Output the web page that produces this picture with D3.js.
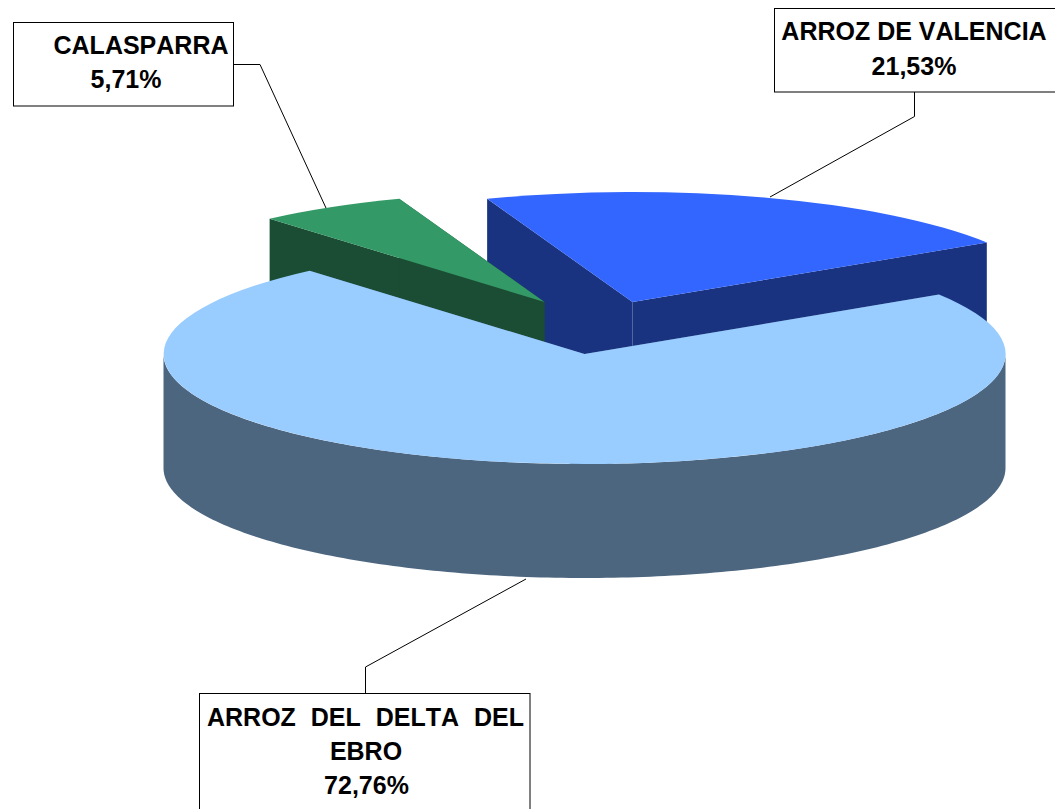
<!DOCTYPE html>
<html>
<head>
<meta charset="utf-8">
<script src="https://d3js.org/d3.v7.min.js"></script>
<style>
  body { margin: 0; background: white; }
  svg { display: block; }
  text { font-family: 'Liberation Sans', Arial, sans-serif; font-weight: bold; font-size: 25px; fill: black; font-kerning: none; }
</style>
</head>
<body>
<svg width="1055" height="809"></svg>

<script>

// Values
var categories = ['ARROZ DE VALENCIA', 'ARROZ DEL DELTA DEL EBRO', 'CALASPARRA'];
var shares = [21.53, 72.76, 5.71];
var shareLabels = ['21,53%', '72,76%', '5,71%'];
var colors = ['#3366FF', '#99CCFF', '#339966'];

// Pie geometry
var cx = 584.5, cy = 354, rx = 421, ry = 110, depth = 114;
var start = -20.2 * Math.PI / 180;

// How far each slice is pulled out of the pie
var explode = [{dx: 48, dy: -52}, {dx: 0, dy: 0}, {dx: -40, dy: -52}];

var svg = d3.select('svg');

var pie = d3.pie().sort(null).startAngle(start).endAngle(start + 2 * Math.PI);
var slices = pie(shares);

// Unit circle arc, squashed into an ellipse by the group transform
var arc = d3.arc().innerRadius(0).outerRadius(1);
var line = d3.line();

function px(a) { return rx * Math.sin(a); }
function py(a) { return -ry * Math.cos(a); }

// half of the top colour, that is what the side faces use
function sideColor(c) {
  var k = d3.rgb(c);
  return d3.rgb(k.r / 2, k.g / 2, k.b / 2).formatHex();
}

// Side faces of one slice: the two cuts, and the rounded front if it has any
function faces(d) {
  var out = [];
  [d.startAngle, d.endAngle].forEach(function(a) {
    out.push([[0, 0], [px(a), py(a)], [px(a), py(a) + depth], [0, depth]]);
  });
  var a0 = Math.max(d.startAngle, Math.PI / 2);
  var a1 = Math.min(d.endAngle, 3 * Math.PI / 2);
  if (a1 > a0) {
    var ts = d3.range(0, 181).map(function(i) { return a0 + (a1 - a0) * i / 180; });
    var top = ts.map(function(a) { return [px(a), py(a)]; });
    var bottom = ts.slice().reverse().map(function(a) { return [px(a), py(a) + depth]; });
    out.push(top.concat(bottom));
  }
  return out;
}

// Back to front: valencia, calasparra, then the big slice on top of both
var order = [0, 2, 1];

var groups = svg.selectAll('g.slice')
  .data(order)
  .enter().append('g')
  .attr('class', 'slice')
  .attr('transform', function(i) {
    return 'translate(' + (cx + explode[i].dx) + ',' + (cy + explode[i].dy) + ')';
  });

groups.selectAll('path.side')
  .data(function(i) { return faces(slices[i]).map(function(f) { return {pts: f, i: i}; }); })
  .enter().append('path')
  .attr('class', 'side')
  .attr('d', function(d) { return line(d.pts) + 'Z'; })
  .attr('fill', function(d) { return sideColor(colors[d.i]); });

groups.append('path')
  .attr('class', 'top')
  .attr('transform', 'scale(' + rx + ',' + ry + ')')
  .attr('d', function(i) { return arc(slices[i]); })
  .attr('fill', function(i) { return colors[i]; });

// Leader lines
var leaders = [
  [[914.5, 92], [914.5, 116.5], [770, 197]],
  [[526, 579], [365.5, 667], [365.5, 693]],
  [[233, 64.5], [260, 64.5], [326, 208]]
];

svg.selectAll('path.leader')
  .data(leaders)
  .enter().append('path')
  .attr('class', 'leader')
  .attr('d', line)
  .attr('fill', 'none')
  .attr('stroke', 'black')
  .attr('stroke-width', 1);

// Label boxes
var boxes = [
  {x: 774.5, y: 8.5, w: 290, h: 83.5},
  {x: 199.5, y: 693.5, w: 330.5, h: 130},
  {x: 13.5, y: 22.5, w: 220, h: 83.5}
];

svg.selectAll('rect.box')
  .data(boxes)
  .enter().append('rect')
  .attr('class', 'box')
  .attr('x', function(d) { return d.x; })
  .attr('y', function(d) { return d.y; })
  .attr('width', function(d) { return d.w; })
  .attr('height', function(d) { return d.h; })
  .attr('fill', 'white')
  .attr('stroke', 'black')
  .attr('stroke-width', 1);

// Label text, the delta one wraps and its first line is justified
var labelLines = [
  {text: categories[0], x: 914, y: 40},
  {text: shareLabels[0], x: 914, y: 75},
  {text: 'ARROZ DEL DELTA DEL', x: 365.5, y: 726, justify: 317},
  {text: 'EBRO', x: 366, y: 760},
  {text: shareLabels[1], x: 366.5, y: 794},
  {text: categories[2], x: 141, y: 54},
  {text: shareLabels[2], x: 126, y: 88}
];

svg.selectAll('text')
  .data(labelLines)
  .enter().append('text')
  .attr('x', function(d) { return d.x; })
  .attr('y', function(d) { return d.y; })
  .attr('text-anchor', 'middle')
  .text(function(d) { return d.text; })
  .each(function(d) {
    if (d.justify) {
      var gaps = d.text.split(' ').length - 1;
      var extra = (d.justify - this.getComputedTextLength()) / gaps;
      d3.select(this).style('word-spacing', extra + 'px');
    }
  });

</script>
</body>
</html>
